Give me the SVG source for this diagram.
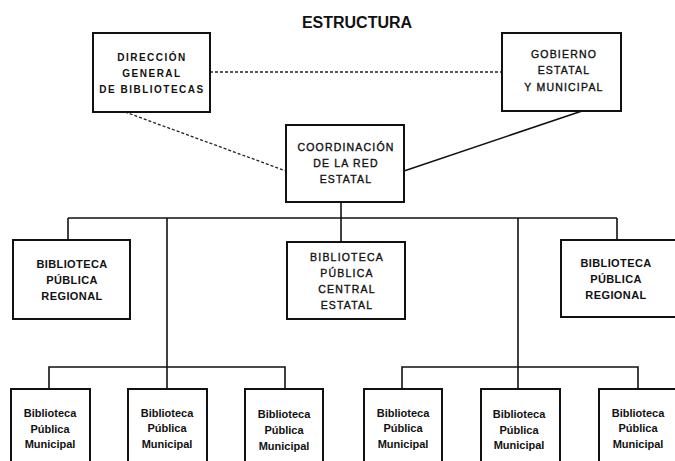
<svg xmlns="http://www.w3.org/2000/svg" width="675" height="461" viewBox="0 0 675 461">
<style>
.box{fill:#fff;stroke:#111;stroke-width:2}
.t{font-family:"Liberation Sans",Arial,sans-serif;fill:#111;text-anchor:middle}
.cap{font-size:10px;font-weight:bold;letter-spacing:1.5px}
.capn{font-size:10.5px;letter-spacing:1.2px;stroke:#111;stroke-width:0.35}
.reg{font-size:11px;font-weight:bold;letter-spacing:0.4px}
.mun{font-size:11px;font-weight:bold}
.c{stroke:#111;stroke-width:1.6;fill:none}
.d{stroke:#222;stroke-width:1.3;fill:none;stroke-dasharray:3 2}
</style>
<rect width="675" height="461" fill="#fff"/>
<text class="t" x="357" y="28" font-size="16" font-weight="bold">ESTRUCTURA</text>
<g id="connectors">
<line class="d" x1="210" y1="72" x2="502" y2="72"/>
<line class="d" x1="125" y1="112" x2="286" y2="171"/>
<line class="c" x1="582" y1="111" x2="404" y2="171"/>
<line class="c" x1="341" y1="202" x2="341" y2="218"/>
<line class="c" x1="68" y1="218" x2="617" y2="218"/>
<line class="c" x1="68" y1="218" x2="68" y2="240"/>
<line class="c" x1="167" y1="218" x2="167" y2="389"/>
<line class="c" x1="341" y1="218" x2="341" y2="242"/>
<line class="c" x1="518" y1="218" x2="518" y2="389"/>
<line class="c" x1="617" y1="218" x2="617" y2="240"/>
<polyline class="c" points="49,389 49,367 285,367 285,389"/>
<polyline class="c" points="402,389 402,367 638,367 638,389"/>
</g>
<g id="direccion">
<rect class="box" x="93" y="33" width="117" height="79"/>
<text class="t cap" x="152" y="61">DIRECCIÓN</text>
<text class="t cap" x="152" y="77">GENERAL</text>
<text class="t cap" x="152" y="93">DE BIBLIOTECAS</text>
</g>
<g id="gobierno">
<rect class="box" x="502" y="33" width="119" height="78"/>
<text class="t capn" x="564" y="58">GOBIERNO</text>
<text class="t capn" x="564" y="74">ESTATAL</text>
<text class="t capn" x="564" y="91">Y MUNICIPAL</text>
</g>
<g id="coordinacion">
<rect class="box" x="286" y="125" width="118" height="77"/>
<text class="t capn" x="346" y="151">COORDINACIÓN</text>
<text class="t capn" x="346" y="167">DE LA RED</text>
<text class="t capn" x="346" y="183">ESTATAL</text>
</g>
<g id="regional-izq">
<rect class="box" x="13" y="240" width="117" height="79"/>
<text class="t reg" x="72" y="268">BIBLIOTECA</text>
<text class="t reg" x="72" y="284">PÚBLICA</text>
<text class="t reg" x="72" y="300">REGIONAL</text>
</g>
<g id="central">
<rect class="box" x="287" y="242" width="118" height="77"/>
<text class="t capn" x="347" y="261">BIBLIOTECA</text>
<text class="t capn" x="347" y="277">PÚBLICA</text>
<text class="t capn" x="347" y="293">CENTRAL</text>
<text class="t capn" x="347" y="309">ESTATAL</text>
</g>
<g id="regional-der">
<rect class="box" x="561" y="240" width="125" height="77"/>
<text class="t reg" x="616" y="267">BIBLIOTECA</text>
<text class="t reg" x="616" y="283">PÚBLICA</text>
<text class="t reg" x="616" y="299">REGIONAL</text>
</g>
<g id="municipal-1">
<rect class="box" x="11" y="389" width="79" height="80"/>
<text class="t mun" x="50" y="417">Biblioteca</text>
<text class="t mun" x="50" y="433">Pública</text>
<text class="t mun" x="50" y="448">Municipal</text>
</g>
<g id="municipal-2">
<rect class="box" x="128" y="389" width="79" height="80"/>
<text class="t mun" x="167" y="417">Biblioteca</text>
<text class="t mun" x="167" y="432">Pública</text>
<text class="t mun" x="167" y="448">Municipal</text>
</g>
<g id="municipal-3">
<rect class="box" x="245" y="389" width="78" height="80"/>
<text class="t mun" x="284" y="418">Biblioteca</text>
<text class="t mun" x="284" y="434">Pública</text>
<text class="t mun" x="284" y="450">Municipal</text>
</g>
<g id="municipal-4">
<rect class="box" x="364" y="389" width="78" height="80"/>
<text class="t mun" x="403" y="417">Biblioteca</text>
<text class="t mun" x="403" y="432">Pública</text>
<text class="t mun" x="403" y="448">Municipal</text>
</g>
<g id="municipal-5">
<rect class="box" x="481" y="389" width="79" height="80"/>
<text class="t mun" x="519" y="418">Biblioteca</text>
<text class="t mun" x="519" y="434">Pública</text>
<text class="t mun" x="519" y="449">Municipal</text>
</g>
<g id="municipal-6">
<rect class="box" x="599" y="389" width="90" height="80"/>
<text class="t mun" x="638" y="417">Biblioteca</text>
<text class="t mun" x="638" y="432">Pública</text>
<text class="t mun" x="638" y="448">Municipal</text>
</g>
</svg>
